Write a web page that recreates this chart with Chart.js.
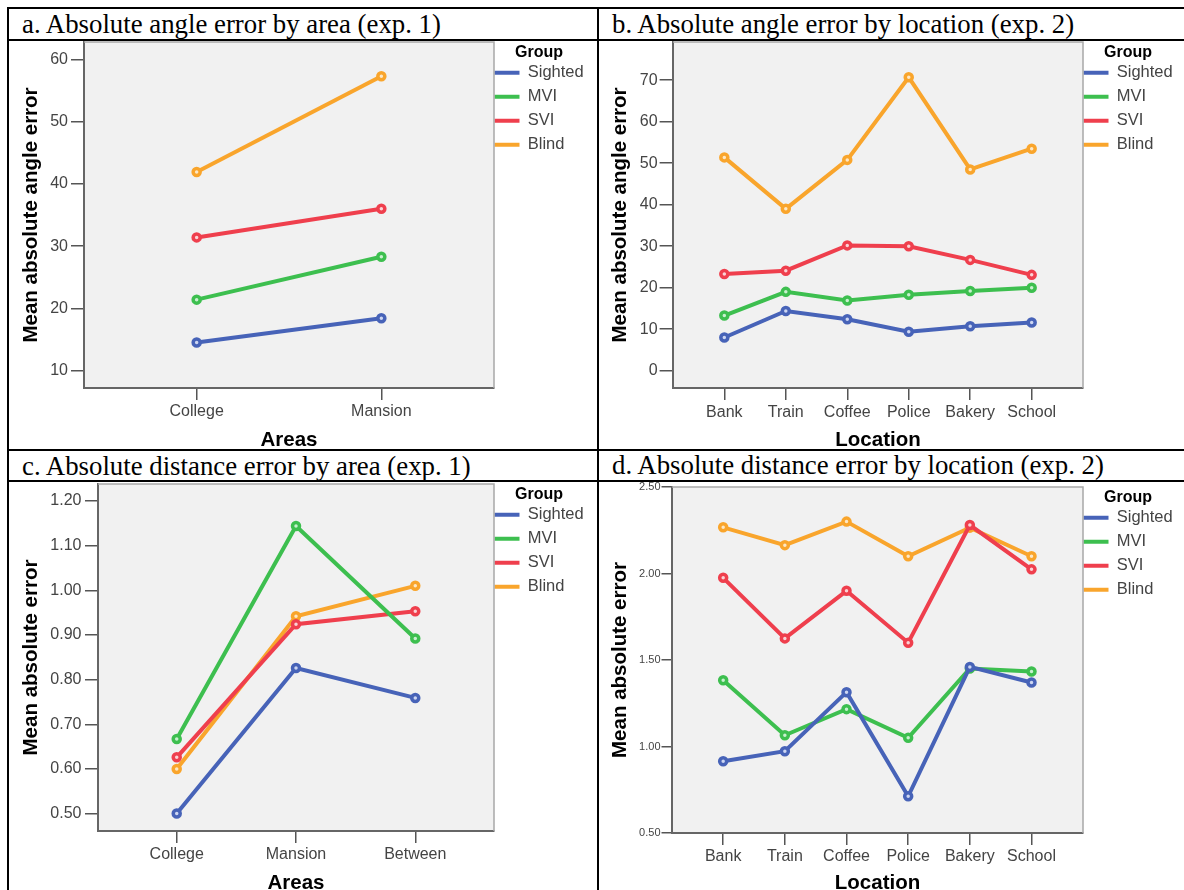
<!DOCTYPE html>
<html><head><meta charset="utf-8">
<script src="https://cdn.jsdelivr.net/npm/chart.js@4/dist/chart.umd.min.js"></script>
<style>
html,body{margin:0;padding:0;background:#fff;width:1184px;height:890px;overflow:hidden;position:relative;}
.ln{position:absolute;background:#000;z-index:5}
.ttl{position:absolute;font-family:'Liberation Serif','Times New Roman',serif;font-size:26.8px;line-height:26.8px;white-space:nowrap;color:#000}
canvas{position:absolute}
</style></head><body>
<div class="ln" style="left:7px;top:7px;width:1177px;height:1.5px"></div>
<div class="ln" style="left:7px;top:39px;width:1177px;height:1.5px"></div>
<div class="ln" style="left:7px;top:449px;width:1177px;height:1.5px"></div>
<div class="ln" style="left:7px;top:480px;width:1177px;height:1.5px"></div>
<div class="ln" style="left:7px;top:7px;width:1.5px;height:883px"></div>
<div class="ln" style="left:597px;top:7px;width:1.5px;height:883px"></div>
<div class="ttl" style="left:22px;top:11px">a. Absolute angle error by area (exp. 1)</div>
<div class="ttl" style="left:612px;top:11px">b. Absolute angle error by location (exp. 2)</div>
<div class="ttl" style="left:22px;top:453px">c. Absolute distance error by area (exp. 1)</div>
<div class="ttl" style="left:612px;top:452px">d. Absolute distance error by location (exp. 2)</div>
<canvas id="ca" width="590" height="411" style="left:8px;top:40px"></canvas>
<canvas id="cb" width="585" height="411" style="left:599px;top:40px"></canvas>
<canvas id="cc" width="590" height="412" style="left:8px;top:482px"></canvas>
<canvas id="cd" width="585" height="412" style="left:599px;top:482px"></canvas>
<script>
// ---------- data ----------
const groups = ['Sighted', 'MVI', 'SVI', 'Blind'];
const areasExp1 = ['College', 'Mansion'];
const areasDistExp1 = ['College', 'Mansion', 'Between'];
const locations = ['Bank', 'Train', 'Coffee', 'Police', 'Bakery', 'School'];

// a. absolute angle error by area (exp. 1)
const angleAreaSighted = [14.5, 18.4];
const angleAreaMVI = [21.4, 28.3];
const angleAreaSVI = [31.4, 36.0];
const angleAreaBlind = [41.9, 57.3];

// b. absolute angle error by location (exp. 2)
const angleLocSighted = [8.0, 14.4, 12.4, 9.4, 10.7, 11.6];
const angleLocMVI = [13.3, 19.0, 16.9, 18.3, 19.2, 20.0];
const angleLocSVI = [23.3, 24.1, 30.2, 30.0, 26.7, 23.1];
const angleLocBlind = [51.4, 39.0, 50.8, 70.7, 48.5, 53.5];

// c. absolute distance error by area (exp. 1)
const distAreaSighted = [0.500, 0.826, 0.759];
const distAreaMVI = [0.667, 1.144, 0.892];
const distAreaSVI = [0.626, 0.924, 0.953];
const distAreaBlind = [0.600, 0.942, 1.010];

// d. absolute distance error by location (exp. 2)
const distLocSighted = [0.915, 0.973, 1.314, 0.712, 1.460, 1.370];
const distLocMVI = [1.383, 1.065, 1.216, 1.050, 1.451, 1.434];
const distLocSVI = [1.975, 1.625, 1.900, 1.600, 2.280, 2.024];
const distLocBlind = [2.267, 2.164, 2.300, 2.100, 2.265, 2.100];

// tick values
const yTicksA = [10, 20, 30, 40, 50, 60];
const yTicksB = [0, 10, 20, 30, 40, 50, 60, 70];
const yTicksC = [0.50, 0.60, 0.70, 0.80, 0.90, 1.00, 1.10, 1.20];
const yTicksD = [0.50, 1.00, 1.50, 2.00, 2.50];

// ---------- style ----------
const SANS = "'Liberation Sans', Arial, sans-serif";
const LINE_COLORS = ['#4763b8', '#3dbf4f', '#ef3f4d', '#f9a52c'];
const POINT_FILLS = ['#cdd6f2', '#c9f0d0', '#fbd3d6', '#fde8c6'];

const panelPlugin = {
  id: 'panel',
  afterLayout(chart) {
    const lg = chart.legend, ca = chart.chartArea;
    if (lg) { lg.left = ca.right - 7; lg.width = 104; lg.right = lg.left + 104; }
  },
  beforeDraw(chart) {
    const {ctx, chartArea: a} = chart;
    ctx.save();
    ctx.fillStyle = '#f1f1f1';
    ctx.fillRect(a.left, a.top, a.right - a.left, a.bottom - a.top);
    ctx.restore();
  },
  beforeDatasetsDraw(chart) {
    const {ctx, chartArea: a} = chart;
    ctx.save();
    ctx.strokeStyle = '#a8a8a8';
    ctx.lineWidth = 1.5;
    ctx.beginPath();
    ctx.moveTo(a.left, a.top); ctx.lineTo(a.right, a.top); ctx.lineTo(a.right, a.bottom);
    ctx.stroke();
    ctx.restore();
  }
};

function makeChart(id, cats, series, yTicks, fmt, yTitle, xTitle, L) {
  const datasets = series.map((vals, k) => ({
    label: groups[k],
    data: vals.map((v, i) => ({x: i, y: v})),
    borderColor: LINE_COLORS[k],
    backgroundColor: LINE_COLORS[k],
    pointBackgroundColor: POINT_FILLS[k],
    pointBorderColor: LINE_COLORS[k],
    borderWidth: 4,
    pointRadius: 3.5,
    pointBorderWidth: 3.5,
    tension: 0
  }));
  const zeroPad = s => { s.paddingLeft = 0; s.paddingRight = 0; s.paddingTop = 0; s.paddingBottom = 0; };
  new Chart(document.getElementById(id), {
    type: 'line',
    data: {datasets},
    plugins: [panelPlugin],
    options: {
      responsive: false, animation: false, events: [],
      layout: {padding: L.pad, autoPadding: false},
      plugins: {
        tooltip: {enabled: false},
        legend: {
          position: 'right', align: 'start', maxWidth: 80,
          title: {display: true, text: 'Group', color: '#000',
            font: {family: SANS, size: 16, weight: 'bold', lineHeight: 0.75},
            padding: {top: 3, bottom: 0}},
          labels: {
            boxWidth: 25, boxHeight: 4, padding: 7.5, color: '#444',
            font: {family: SANS, size: 16.5},
            generateLabels(chart) {
              return Chart.defaults.plugins.legend.labels.generateLabels(chart)
                .map(it => Object.assign(it, {lineWidth: 0}));
            }
          }
        }
      },
      scales: {
        x: {
          type: 'linear', bounds: 'data', min: L.xMin, max: L.xMax,
          afterBuildTicks(s) { s.ticks = cats.map((c, i) => ({value: i})); },
          afterFit(s) { s.height = L.xH; zeroPad(s); },
          ticks: {callback: v => cats[v], color: '#444', font: {family: SANS, size: 16},
            padding: L.xPad, maxRotation: 0, autoSkip: false},
          grid: {drawOnChartArea: false, tickLength: 12, color: '#555', lineWidth: 1.5},
          border: {display: true, color: '#666', width: 2},
          title: {display: true, text: xTitle, color: '#000',
            font: {family: SANS, size: 20.5, weight: 'bold', lineHeight: 1}, padding: 0}
        },
        y: {
          type: 'linear', bounds: 'data', min: L.yMin, max: L.yMax,
          afterBuildTicks(s) { s.ticks = yTicks.map(v => ({value: v})); },
          afterFit(s) { s.width = L.yW; zeroPad(s); },
          ticks: {callback: fmt, color: '#444', font: {family: SANS, size: L.yFont},
            padding: L.yPad, autoSkip: false},
          grid: {drawOnChartArea: false, tickLength: L.yTickLen, color: '#555', lineWidth: 1.5},
          border: {display: true, color: '#666', width: 2},
          title: {display: true, text: yTitle, color: '#000',
            font: {family: SANS, size: 20.5, weight: 'bold', lineHeight: 1}, padding: 0}
        }
      }
    }
  });
}

const intFmt = v => String(v);
const decFmt = v => v.toFixed(2);

makeChart('ca', areasExp1, [angleAreaSighted, angleAreaMVI, angleAreaSVI, angleAreaBlind],
  yTicksA, intFmt, 'Mean absolute angle error', 'Areas',
  {pad: {left: 13.5, top: 2, right: 24, bottom: 0}, yW: 62.5, xH: 63,
   yMin: 7.2, yMax: 62.8, xMin: -0.61, xMax: 1.61, yTickLen: 13, yPad: 3, xPad: 1.5, yFont: 16});

makeChart('cb', locations, [angleLocSighted, angleLocMVI, angleLocSVI, angleLocBlind],
  yTicksB, intFmt, 'Mean absolute angle error', 'Location',
  {pad: {left: 11.4, top: 2, right: 21, bottom: 0}, yW: 62.6, xH: 63,
   yMin: -4.16, yMax: 79.2, xMin: -0.835, xMax: 5.835, yTickLen: 13.4, yPad: 2, xPad: 3, yFont: 16});

makeChart('cc', areasDistExp1, [distAreaSighted, distAreaMVI, distAreaSVI, distAreaBlind],
  yTicksC, decFmt, 'Mean absolute error', 'Areas',
  {pad: {left: 13.2, top: 2, right: 24, bottom: 0}, yW: 76.8, xH: 63,
   yMin: 0.461, yMax: 1.238, xMin: -0.66, xMax: 2.66, yTickLen: 13, yPad: 3.5, xPad: 1.5, yFont: 16});

makeChart('cd', locations, [distLocSighted, distLocMVI, distLocSVI, distLocBlind],
  yTicksD, decFmt, 'Mean absolute error', 'Location',
  {pad: {left: 11.4, top: 5, right: 21, bottom: 0}, yW: 61.6, xH: 61,
   yMin: 0.5, yMax: 2.5, xMin: -0.83, xMax: 5.835, yTickLen: 10.5, yPad: 1, xPad: 2, yFont: 11});
</script>
</body></html>
